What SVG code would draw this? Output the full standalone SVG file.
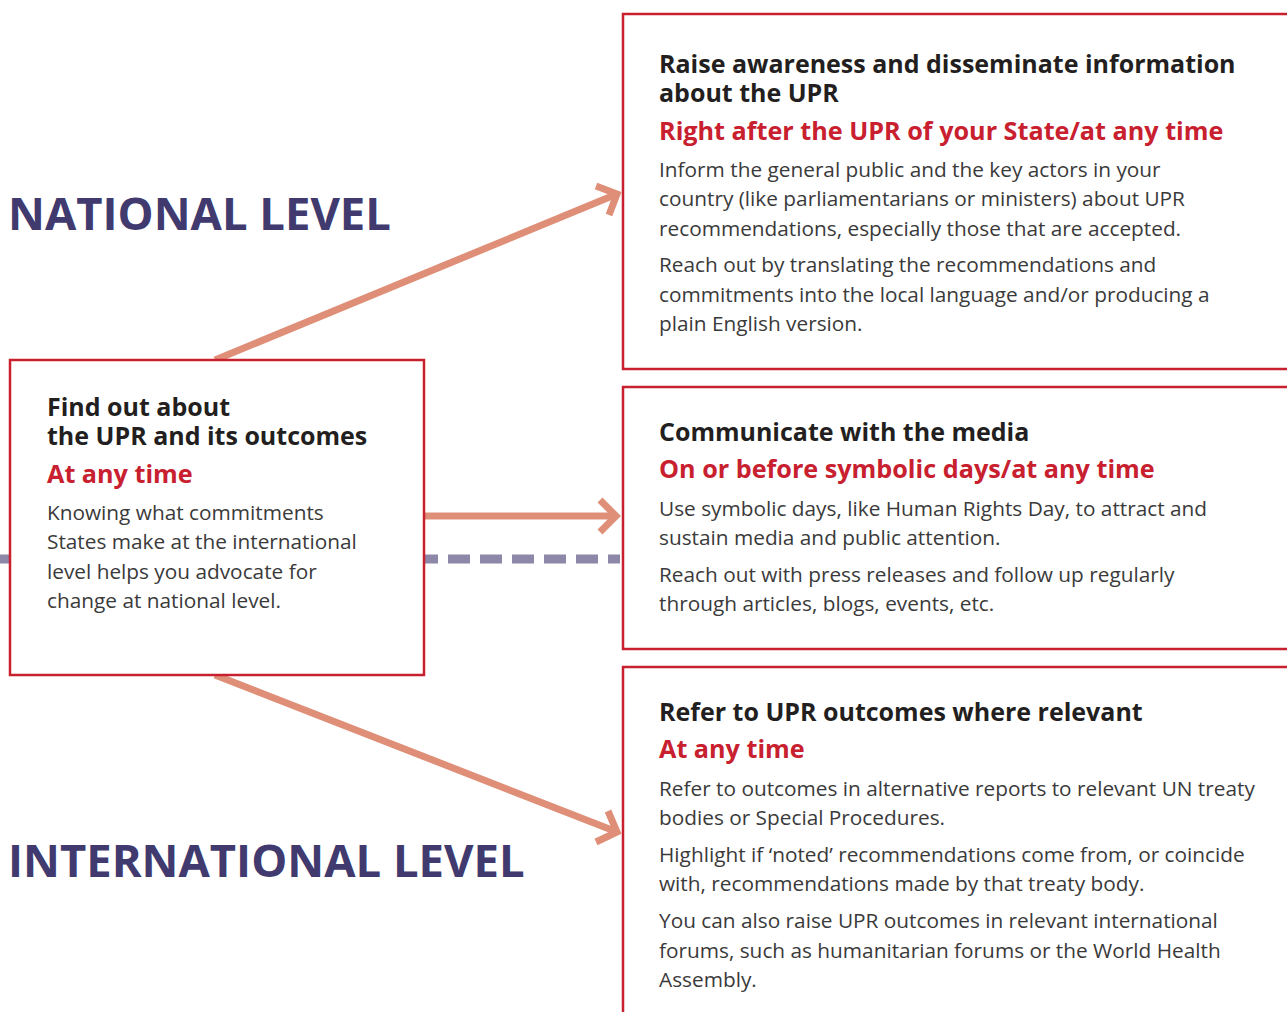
<svg xmlns="http://www.w3.org/2000/svg" width="1287" height="1012" viewBox="0 0 1287 1012">
<defs>
<style>
.box{fill:#fff;stroke:#c8202f;stroke-width:2.5}
.t{font-family:"Open Sans","Noto Sans",sans-serif;font-weight:bold;font-size:25px;fill:#231f20}
.r{font-family:"Open Sans","Noto Sans",sans-serif;font-weight:bold;font-size:25.2px;fill:#c8202f}
.b{font-family:"Open Sans","Noto Sans",sans-serif;font-size:20.8px;fill:#3a3a3a}
.lvl{font-family:"Open Sans","Noto Sans",sans-serif;font-weight:bold;font-size:45.4px;fill:#403a6f}
.arr{fill:none;stroke:#df8f78;stroke-width:7}
.head{fill:none;stroke:#df8f78;stroke-width:7;stroke-linejoin:miter}
</style>
</defs>
<rect width="1287" height="1012" fill="#fff"/>
<text class="lvl" x="8" y="230">NATIONAL LEVEL</text>
<text class="lvl" x="8" y="877">INTERNATIONAL LEVEL</text>
<g id="connectors">
<line x1="0" y1="559" x2="620" y2="559" stroke="#8e88a8" stroke-width="9" stroke-dasharray="22 10"/>
<line class="arr" x1="215" y1="360" x2="617" y2="194"/>
<polyline class="head" points="596,186 617,194 609,215"/>
<line class="arr" x1="424" y1="516" x2="617" y2="516"/>
<polyline class="head" points="600,500 616,516 600,532"/>
<line class="arr" x1="215" y1="675" x2="617" y2="832"/>
<polyline class="head" points="608,811 617,832 596,842"/>
</g>
<g id="node-find">
<rect class="box" x="10" y="360" width="414" height="315"/>
<text class="t" x="47" y="416">Find out about</text>
<text class="t" x="47" y="445">the UPR and its outcomes</text>
<text class="r" x="47" y="483">At any time</text>
<text class="b" x="47" y="520">Knowing what commitments</text>
<text class="b" x="47" y="549">States make at the international</text>
<text class="b" x="47" y="579">level helps you advocate for</text>
<text class="b" x="47" y="608">change at national level.</text>
</g>
<g id="node-raise">
<rect class="box" x="623" y="14" width="700" height="355"/>
<text class="t" x="659" y="73">Raise awareness and disseminate information</text>
<text class="t" x="659" y="102">about the UPR</text>
<text class="r" x="659" y="140">Right after the UPR of your State/at any time</text>
<text class="b" x="659" y="177">Inform the general public and the key actors in your</text>
<text class="b" x="659" y="206">country (like parliamentarians or ministers) about UPR</text>
<text class="b" x="659" y="236">recommendations, especially those that are accepted.</text>
<text class="b" x="659" y="272">Reach out by translating the recommendations and</text>
<text class="b" x="659" y="302">commitments into the local language and/or producing a</text>
<text class="b" x="659" y="331">plain English version.</text>
</g>
<g id="node-media">
<rect class="box" x="623" y="387" width="700" height="262"/>
<text class="t" x="659" y="441">Communicate with the media</text>
<text class="r" x="659" y="478">On or before symbolic days/at any time</text>
<text class="b" x="659" y="516">Use symbolic days, like Human Rights Day, to attract and</text>
<text class="b" x="659" y="545">sustain media and public attention.</text>
<text class="b" x="659" y="582">Reach out with press releases and follow up regularly</text>
<text class="b" x="659" y="611">through articles, blogs, events, etc.</text>
</g>
<g id="node-refer">
<rect class="box" x="623" y="667" width="700" height="400"/>
<text class="t" x="659" y="721">Refer to UPR outcomes where relevant</text>
<text class="r" x="659" y="758">At any time</text>
<text class="b" x="659" y="796">Refer to outcomes in alternative reports to relevant UN treaty</text>
<text class="b" x="659" y="825">bodies or Special Procedures.</text>
<text class="b" x="659" y="862">Highlight if ‘noted’ recommendations come from, or coincide</text>
<text class="b" x="659" y="891">with, recommendations made by that treaty body.</text>
<text class="b" x="659" y="928">You can also raise UPR outcomes in relevant international</text>
<text class="b" x="659" y="958">forums, such as humanitarian forums or the World Health</text>
<text class="b" x="659" y="987">Assembly.</text>
</g>
</svg>
